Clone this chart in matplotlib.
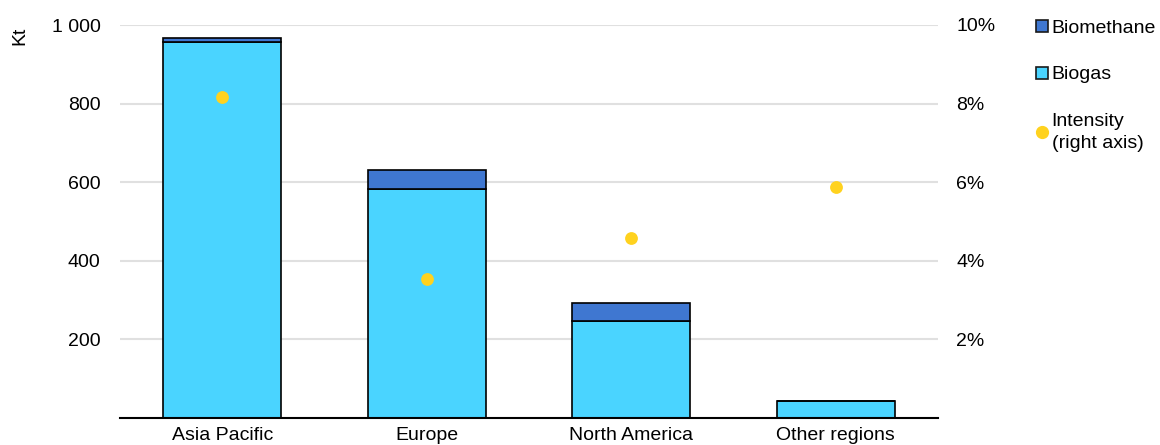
import numpy as np
import matplotlib.pyplot as plt
from matplotlib.lines import Line2D

plt.rcParams['font.family'] = ['Liberation Sans', 'DejaVu Sans']

# data
regions = ['Asia Pacific', 'Europe', 'North America', 'Other regions']
biogas = [958, 583, 247, 44]
biomethane = [9, 49, 45, 0]
intensity = [8.17, 3.54, 4.58, 5.88]  # % (right axis)

left_ticks = [200, 400, 600, 800, 1000]
left_labels = ['200', '400', '600', '800', '1 000']
right_ticks = [2, 4, 6, 8, 10]

c_biogas = '#4AD4FF'
c_biometh = '#3F77D1'
c_dot = '#FFD21F'

fig = plt.figure(figsize=(11.6, 4.45), dpi=100)
ax = fig.add_axes([120/1160, 27/445, 818/1160, 393/445])

x = np.arange(len(regions))
w = 0.577
ax.bar(x, biogas, w, color=c_biogas, edgecolor='black', linewidth=1.2, zorder=3)
ax.bar(x, biomethane, w, bottom=biogas, color=c_biometh, edgecolor='black', linewidth=1.2, zorder=3)

ax.set_xlim(-0.5, len(regions) - 0.5)
ax.set_ylim(0, 1000)
ax.set_yticks(left_ticks)
ax.set_yticklabels(left_labels)
ax.set_xticks(x)
ax.set_xticklabels(regions)
ax.tick_params(axis='y', length=0, pad=14, labelsize=14)
ax.tick_params(axis='x', length=0, pad=6.5, labelsize=14)
ax.grid(axis='y', color='#E0E0E0', linewidth=1.5, zorder=0)
for s in ['top', 'right', 'left']:
    ax.spines[s].set_visible(False)
ax.spines['bottom'].set_linewidth(1.5)
ax.spines['bottom'].set_zorder(4)

fig.text(20/1160, 1 - 36/445, 'Kt', rotation=90, ha='center', va='center', fontsize=14)

ax2 = ax.twinx()
ax2.set_ylim(0, 10)
ax2.scatter(x, intensity, s=85, color=c_dot, zorder=5, linewidths=0)
ax2.set_yticks(right_ticks)
ax2.set_yticklabels([f'{t}%' for t in right_ticks])
ax2.tick_params(axis='y', length=0, pad=13, labelsize=14)
for s in ['top', 'right', 'left', 'bottom']:
    ax2.spines[s].set_visible(False)

handles = [
    Line2D([], [], ls='', marker='s', ms=8, mfc=c_biometh, mec='#1a1a1a', mew=1.2),
    Line2D([], [], ls='', marker='s', ms=8, mfc=c_biogas, mec='#1a1a1a', mew=1.2),
    Line2D([], [], ls='', marker='o', ms=8.5, mfc=c_dot, mec=c_dot),
]
leg = fig.legend(handles, ['Biomethane', 'Biogas', 'Intensity\n(right axis)'],
                 loc='upper left', bbox_to_anchor=(1036/1160, 1 - 19/445),
                 frameon=False, fontsize=14, handlelength=0.6, handletextpad=0.2,
                 labelspacing=1.5, borderpad=0, borderaxespad=0)
for t in leg.get_texts():
    t.set_linespacing(1.45)

fig.savefig('out.png', dpi=100)
